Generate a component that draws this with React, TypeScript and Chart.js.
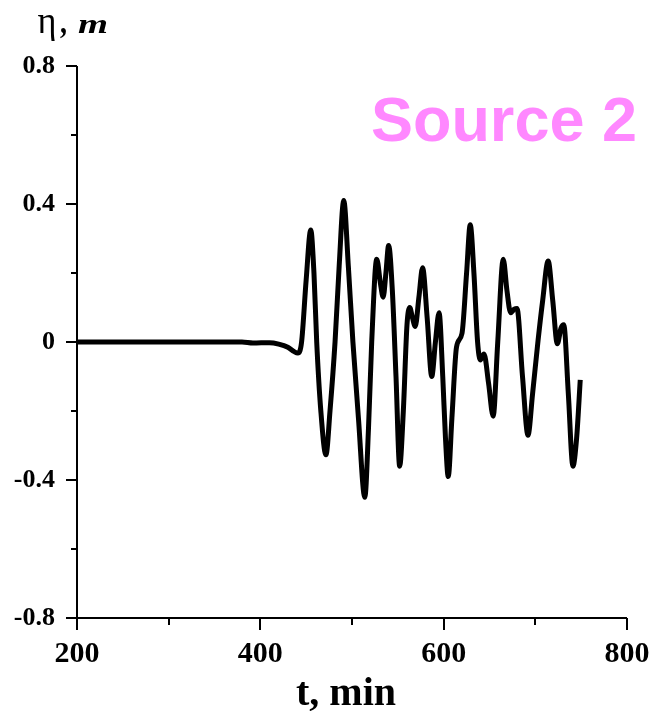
import React, { useEffect, useRef } from "react";
import { Chart, registerables } from "chart.js";

Chart.register(...registerables);

const timeMin: number[] = [
  200, 300, 380, 392, 410, 420, 430, 437, 441, 445, 450, 455, 458.5, 461.5, 466, 471.6,
  476, 481.5, 486, 491, 496, 501, 507, 514, 518, 521.5, 527, 531, 534, 537, 540, 544,
  548, 552, 556, 560, 563, 566, 569, 573, 577, 582, 587, 591, 595, 599, 602, 605,
  609, 614, 620, 625, 629, 633, 637, 640, 644, 649, 654, 659, 665, 669, 673, 677,
  680, 686, 692, 697, 703, 708, 714, 719, 724, 728, 731, 736, 741, 745, 749,
];
const etaM: number[] = [
  0, 0, 0, -0.003, -0.002, -0.006, -0.015, -0.028, -0.032, 0.0, 0.18, 0.325, 0.2, 0.0, -0.2, -0.327,
  -0.2, 0.0, 0.22, 0.41, 0.22, 0.0, -0.22, -0.45, -0.25, 0.0, 0.24, 0.17, 0.13, 0.2, 0.28, 0.15,
  -0.1, -0.36, -0.2, 0.05, 0.1, 0.07, 0.045, 0.13, 0.215, 0.07, -0.1, 0.0, 0.085, -0.1, -0.28, -0.39,
  -0.22, -0.015, 0.025, 0.2, 0.34, 0.2, 0.0, -0.052, -0.035, -0.12, -0.215, 0.0, 0.24, 0.15, 0.085, 0.095,
  0.097, -0.1, -0.27, -0.15, 0.005, 0.12, 0.235, 0.12, -0.005, 0.04, 0.05, -0.15, -0.36, -0.28, -0.11,
];

const xMajorTicks: number[] = [200, 400, 600, 800];
const xMinorTicks: number[] = [300, 500, 700];
const yMajorTicks: number[] = [-0.8, -0.4, 0, 0.4, 0.8];
const yMinorTicks: number[] = [-0.6, -0.2, 0.2, 0.6];

const yTitleSymbol = "η";
const yTitleComma = ",";
const yTitleUnit = "m";
const xTitle = "t, min";
const sourceLabel = "Source 2";

const SERIF = '"Liberation Serif", "Times New Roman", serif';
const SANS = '"Liberation Sans", Arial, sans-serif';

function fitText(ctx: any, text: string, font: string, left: number, right: number, baseline: number) {
  ctx.save();
  ctx.font = font;
  ctx.textAlign = "left";
  ctx.textBaseline = "alphabetic";
  const w = ctx.measureText(text).width;
  const sx = (right - left) / w;
  ctx.translate(left, baseline);
  ctx.scale(sx, 1);
  ctx.fillText(text, 0, 0);
  ctx.restore();
}

const decorPlugin = {
  id: "decor",
  afterDraw(chart: any) {
    const ctx = chart.ctx;
    const xs = chart.scales.x;
    const ys = chart.scales.y;
    const area = chart.chartArea;
    ctx.save();
    ctx.strokeStyle = "#000";
    ctx.lineWidth = 2;
    ctx.beginPath();
    ctx.moveTo(area.left, area.top);
    ctx.lineTo(area.left, area.bottom);
    ctx.lineTo(area.right, area.bottom);
    ctx.stroke();
    const drawY = (v: number, len: number) => {
      const p = Math.round(ys.getPixelForValue(v));
      ctx.beginPath();
      ctx.moveTo(area.left - len, p);
      ctx.lineTo(area.left, p);
      ctx.stroke();
    };
    yMajorTicks.forEach((v) => drawY(v, 11));
    yMinorTicks.forEach((v) => drawY(v, 6));
    const drawX = (v: number, len: number) => {
      const p = Math.round(xs.getPixelForValue(v));
      ctx.beginPath();
      ctx.moveTo(p, area.bottom);
      ctx.lineTo(p, area.bottom + len);
      ctx.stroke();
    };
    xMajorTicks.forEach((v) => drawX(v, 12));
    xMinorTicks.forEach((v) => drawX(v, 7));

    ctx.fillStyle = "#000";
    fitText(ctx, yTitleSymbol, `37px ${SERIF}`, 37.5, 56.5, 33);
    fitText(ctx, yTitleComma, `bold 34px ${SERIF}`, 60, 67, 33);
    fitText(ctx, yTitleUnit, `italic bold 28px ${SERIF}`, 78, 108, 33);

    ctx.font = `bold 40px ${SERIF}`;
    ctx.textAlign = "center";
    ctx.textBaseline = "alphabetic";
    ctx.fillText(xTitle, 346, 705);

    ctx.font = `bold 63px ${SANS}`;
    ctx.textAlign = "right";
    ctx.fillStyle = "#ff88ff";
    ctx.fillText(sourceLabel, 637, 141);
    ctx.restore();
  },
};

export default function App() {
  const ref = useRef<HTMLCanvasElement | null>(null);
  useEffect(() => {
    document.body.style.margin = "0";
    const canvas = ref.current;
    if (!canvas) return;
    const points = timeMin.map((t, i) => ({ x: t, y: etaM[i] }));
    const chart = new Chart(canvas, {
      type: "line",
      data: {
        datasets: [
          {
            data: points,
            borderColor: "#000",
            borderWidth: 5,
            pointRadius: 0,
            cubicInterpolationMode: "monotone",
            fill: false,
          },
        ],
      },
      options: {
        responsive: false,
        animation: false,
        layout: { padding: { top: 66, right: 25, left: 0, bottom: 0 } },
        plugins: { legend: { display: false }, tooltip: { enabled: false } },
        scales: {
          x: {
            type: "linear",
            min: 200,
            max: 800,
            grid: { display: false, drawTicks: false },
            border: { display: false },
            ticks: {
              stepSize: 200,
              color: "#000",
              padding: 18,
              maxRotation: 0,
              font: { family: SERIF, size: 30, weight: "bold" },
              callback: (v: any) => String(v),
            },
            afterFit: (s: any) => {
              s.height = 93;
              s.paddingLeft = 0;
              s.paddingRight = 0;
            },
          },
          y: {
            type: "linear",
            min: -0.8,
            max: 0.8,
            grid: { display: false, drawTicks: false },
            border: { display: false },
            ticks: {
              stepSize: 0.4,
              color: "#000",
              padding: 22,
              font: { family: SERIF, size: 26, weight: "bold" },
              callback: (v: any) => (Math.abs(v) < 1e-9 ? "0" : Number(v).toFixed(1)),
            },
            afterFit: (s: any) => {
              s.width = 77;
              s.paddingTop = 0;
              s.paddingBottom = 0;
            },
          },
        },
      },
      plugins: [decorPlugin],
    } as any);
    return () => chart.destroy();
  }, []);
  return (
    <div style={{ position: "absolute", left: 0, top: 0, width: 652, height: 711 }}>
      <canvas ref={ref} width={652} height={711} style={{ width: 652, height: 711 }} />
    </div>
  );
}
